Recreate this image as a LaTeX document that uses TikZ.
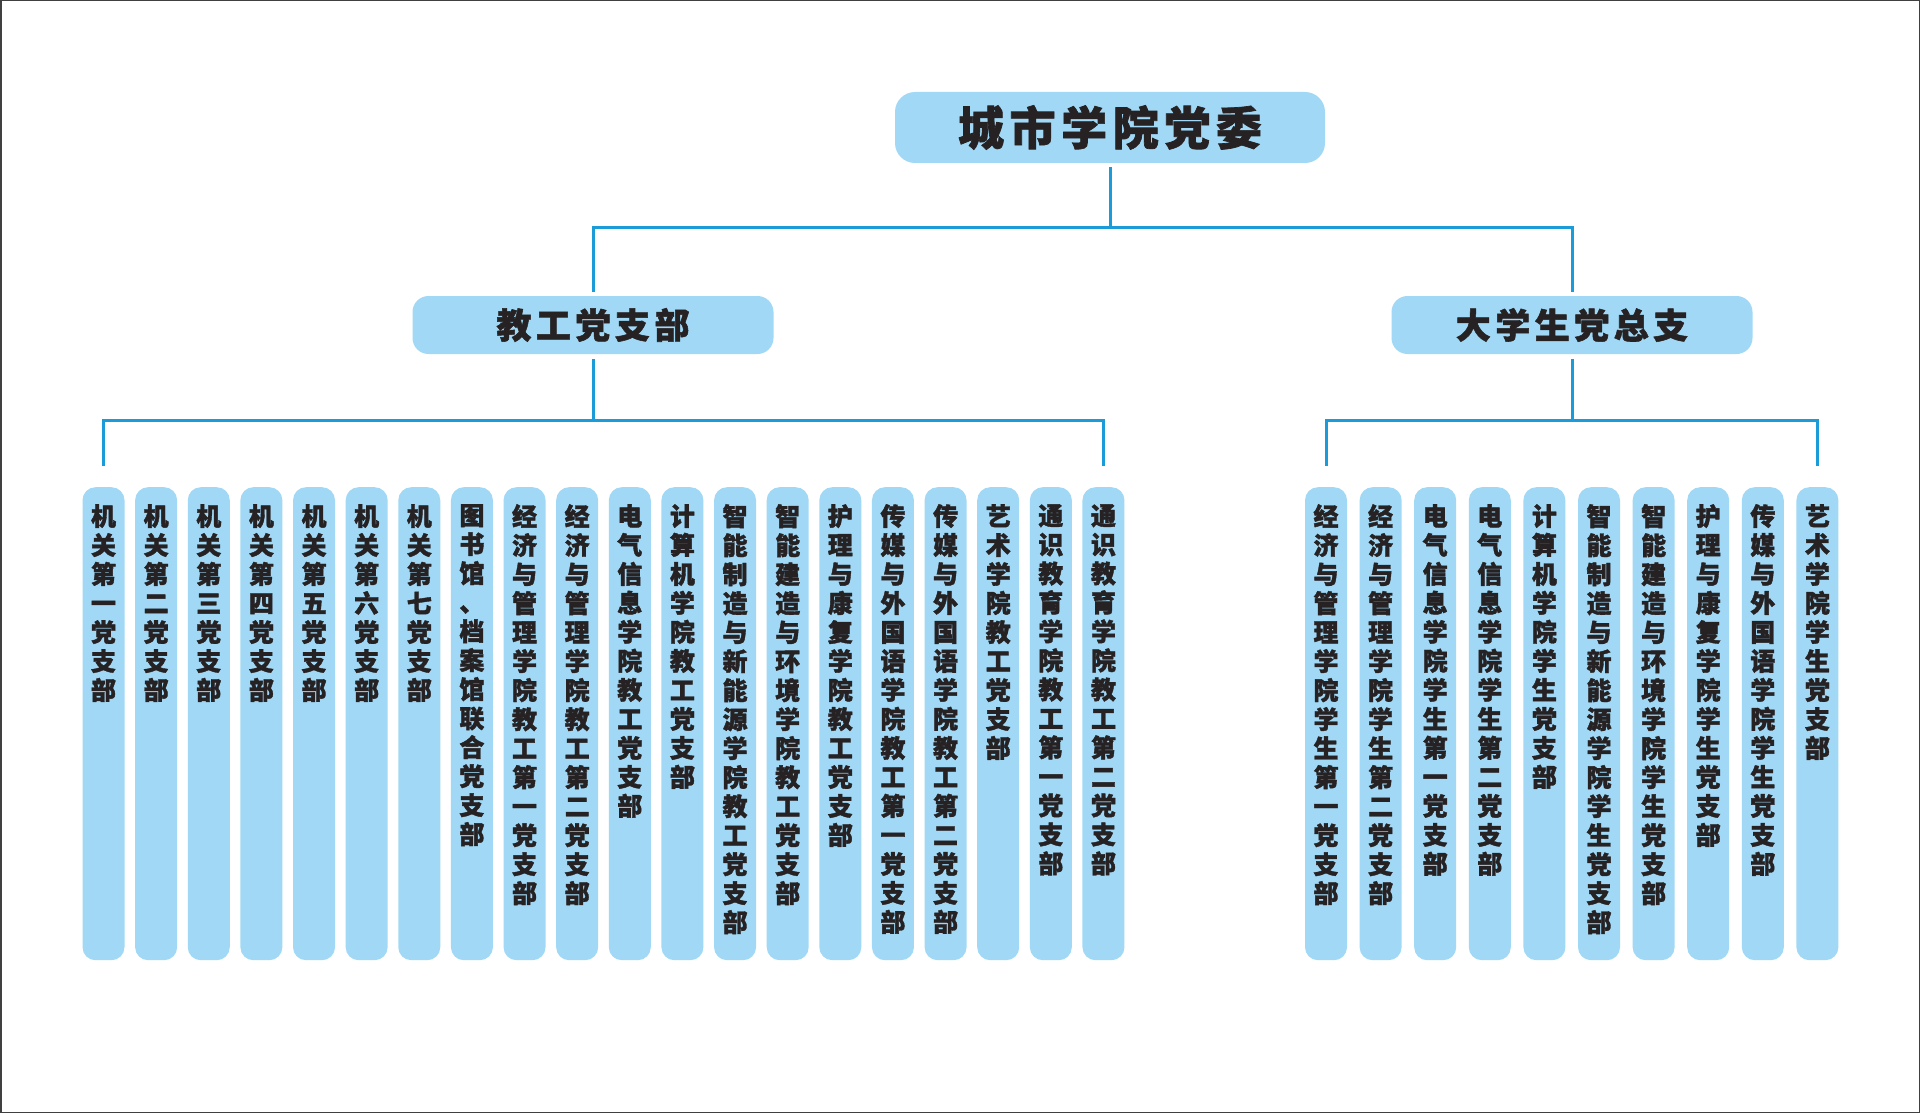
\documentclass[tikz,border=0pt]{standalone}
\usepackage{fontspec}
\usepackage{tikz}
\usetikzlibrary{positioning}
\newfontfamily\cjk{Noto Sans CJK SC}[BoldFeatures={FakeBold=1.5}]
\definecolor{boxblue}{RGB}{160,216,245}
\definecolor{linkblue}{RGB}{27,155,215}
\definecolor{inkdark}{RGB}{38,34,35}
\tikzstyle{link} = [draw=linkblue,line width=3pt]
\tikzstyle{pageframe} = [draw=black!75,line width=1.5pt]

% spaced characters for the box titles
\newlength\gapw
\newcommand\spread[2]{\setlength\gapw{#1}\spreadA#2\relax\relax}
\def\spreadA#1#2{#1\ifx#2\relax\else\kern\gapw\expandafter\spreadA\expandafter#2\fi}
% one character per line for the bars
\newcommand\vcol[1]{\vbox to 473pt{\baselineskip=29pt\lineskiplimit=-20pt\vskip17pt\vcolA#1\relax\vfil}}
\def\vcolA#1{\ifx#1\relax\else\hbox to 42pt{\hss#1\hss}\expandafter\vcolA\fi}

\begin{document}
\begin{tikzpicture}[x=1pt,y=-1pt,node distance=52.63pt]
  \tikzstyle{topbox} = [fill=boxblue,rounded corners=20pt,minimum width=430pt,minimum height=71pt,inner sep=0pt,text=inkdark,font=\cjk\bfseries\fontsize{46}{46}\selectfont]
  \tikzstyle{midbox} = [topbox,rounded corners=16pt,minimum width=361pt,minimum height=58pt,font=\cjk\bfseries\fontsize{35}{35}\selectfont]
  \tikzstyle{bar} = [fill=boxblue,rounded corners=13pt,minimum width=42pt,minimum height=473pt,inner sep=0pt,text=inkdark,font=\cjk\bfseries\fontsize{25}{29}\selectfont]
  \useasboundingbox (0,0) rectangle (1920,1113);
  \draw[pageframe] (0.75,0.75) rectangle (1919.25,1112.25);

  \node[topbox] (party) at (1110,127.5) {\spread{5.6pt}{城市学院党委}};
  \node[midbox] (staff) at (593,325) {\spread{4.5pt}{教工党支部}};
  \node[midbox] (student) at (1572,325) {\spread{4.5pt}{大学生党总支}};

  % staff branches
  \node[bar,anchor=north] (t1) at (103.5,487) {\vcol{机关第一党支部}};
  \node[bar,right of=t1] (t2) {\vcol{机关第二党支部}};
  \node[bar,right of=t2] (t3) {\vcol{机关第三党支部}};
  \node[bar,right of=t3] (t4) {\vcol{机关第四党支部}};
  \node[bar,right of=t4] (t5) {\vcol{机关第五党支部}};
  \node[bar,right of=t5] (t6) {\vcol{机关第六党支部}};
  \node[bar,right of=t6] (t7) {\vcol{机关第七党支部}};
  \node[bar,right of=t7] (t8) {\vcol{图书馆、档案馆联合党支部}};
  \node[bar,right of=t8] (t9) {\vcol{经济与管理学院教工第一党支部}};
  \node[bar,right of=t9] (t10) {\vcol{经济与管理学院教工第二党支部}};
  \node[bar,right of=t10] (t11) {\vcol{电气信息学院教工党支部}};
  \node[bar,right of=t11] (t12) {\vcol{计算机学院教工党支部}};
  \node[bar,right of=t12] (t13) {\vcol{智能制造与新能源学院教工党支部}};
  \node[bar,right of=t13] (t14) {\vcol{智能建造与环境学院教工党支部}};
  \node[bar,right of=t14] (t15) {\vcol{护理与康复学院教工党支部}};
  \node[bar,right of=t15] (t16) {\vcol{传媒与外国语学院教工第一党支部}};
  \node[bar,right of=t16] (t17) {\vcol{传媒与外国语学院教工第二党支部}};
  \node[bar,right of=t17] (t18) {\vcol{艺术学院教工党支部}};
  \node[bar,right of=t18] (t19) {\vcol{通识教育学院教工第一党支部}};
  \node[bar,right of=t19] (t20) {\vcol{通识教育学院教工第二党支部}};

  % student branches
  \begin{scope}[node distance=54.6pt]
  \node[bar,anchor=north] (s1) at (1326,487) {\vcol{经济与管理学院学生第一党支部}};
  \node[bar,right of=s1] (s2) {\vcol{经济与管理学院学生第二党支部}};
  \node[bar,right of=s2] (s3) {\vcol{电气信息学院学生第一党支部}};
  \node[bar,right of=s3] (s4) {\vcol{电气信息学院学生第二党支部}};
  \node[bar,right of=s4] (s5) {\vcol{计算机学院学生党支部}};
  \node[bar,right of=s5] (s6) {\vcol{智能制造与新能源学院学生党支部}};
  \node[bar,right of=s6] (s7) {\vcol{智能建造与环境学院学生党支部}};
  \node[bar,right of=s7] (s8) {\vcol{护理与康复学院学生党支部}};
  \node[bar,right of=s8] (s9) {\vcol{传媒与外国语学院学生党支部}};
  \node[bar,right of=s9] (s10) {\vcol{艺术学院学生党支部}};
  \end{scope}

  \draw[link,shorten <=4pt,shorten >=4pt] (party.south) -- ++(0,64) -| (staff.north);
  \draw[link,shorten <=4pt,shorten >=4pt] (party.south) -- ++(0,64) -| (student.north);
  \draw[link,shorten <=5pt,shorten >=21pt] (staff.south) -- ++(0,66) -| (t1.north);
  \draw[link,shorten <=5pt,shorten >=21pt] (staff.south) -- ++(0,66) -| (t20.north);
  \draw[link,shorten <=5pt,shorten >=21pt] (student.south) -- ++(0,66) -| (s1.north);
  \draw[link,shorten <=5pt,shorten >=21pt] (student.south) -- ++(0,66) -| (s10.north);
\end{tikzpicture}
\end{document}
